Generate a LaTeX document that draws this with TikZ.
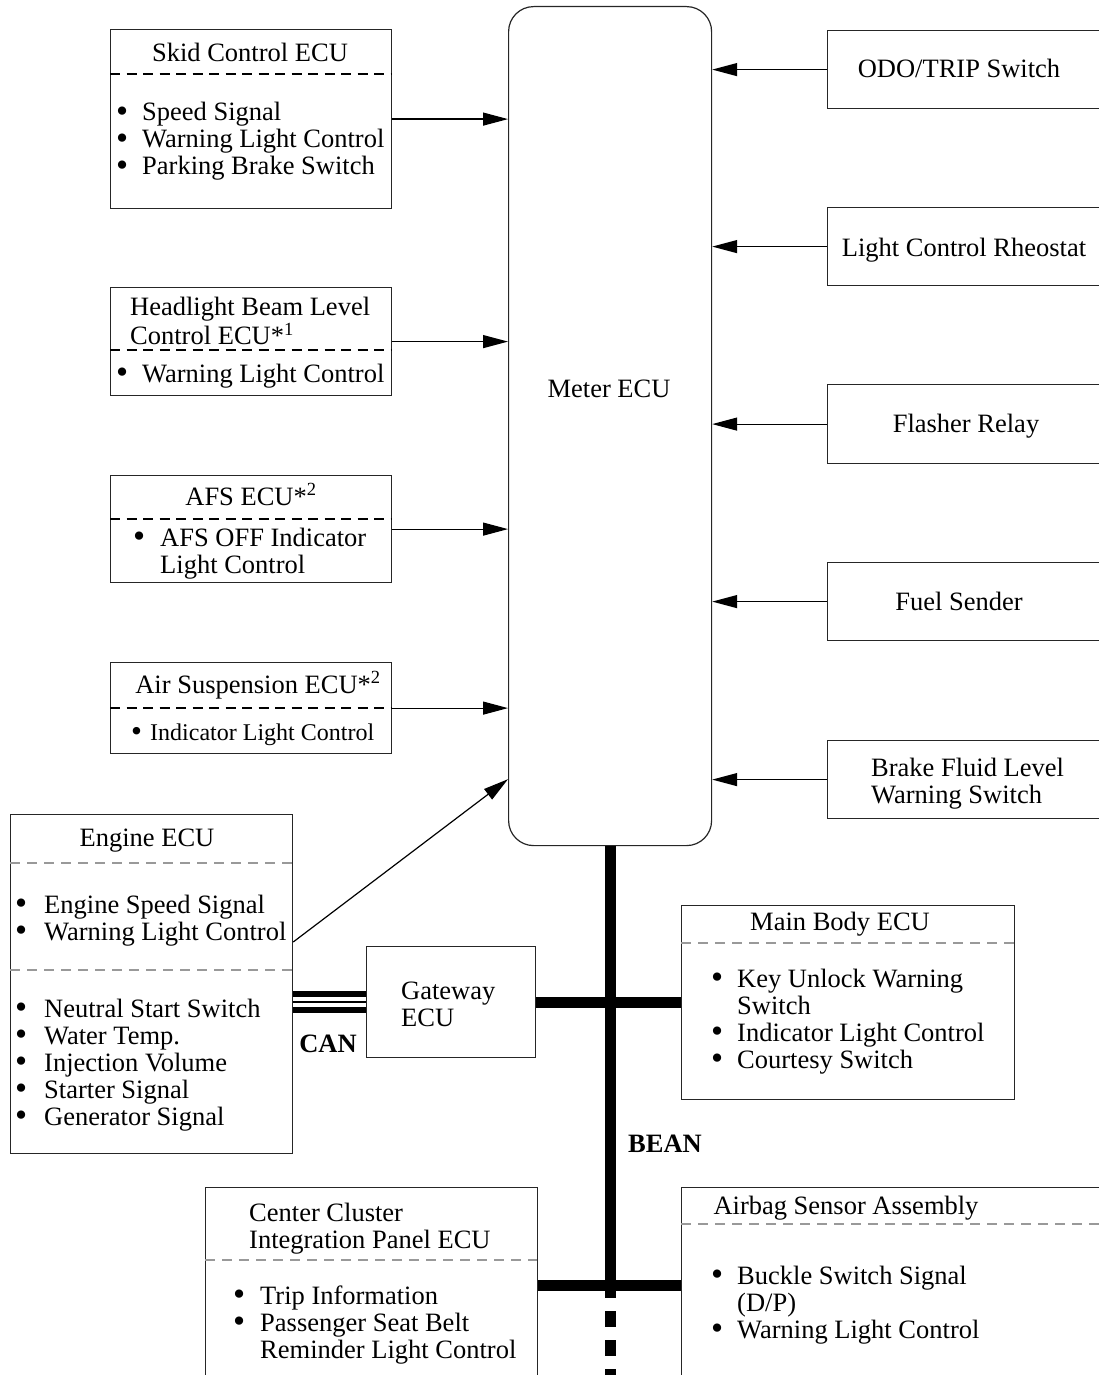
\documentclass[tikz,border=0pt]{standalone}
\usepackage{fontspec}
\setmainfont{Liberation Serif}
\usetikzlibrary{arrows.meta,calc}
% bullet list: #1 = indent of the item text, #2 = rows
\newcommand\ecuitems[2]{\begin{tabular}[t]{@{}p{#1}@{}l@{}}#2\end{tabular}}
\newcommand\eculines[1]{\begin{tabular}[t]{@{}l@{}}#1\end{tabular}}
\newcommand\bul{\raisebox{-0.06em}{\scalebox{1.3}{\textbullet}}}
\begin{document}
\begin{tikzpicture}[x=1pt,y=-1pt,
  box/.style={draw=black!85, line width=1.2pt, anchor=north west, inner sep=0pt, rectangle},
  lbl/.style={inner sep=0pt, font=\fontsize{26.5}{27}\selectfont},
  sml/.style={inner sep=0pt, font=\fontsize{24}{26}\selectfont},
  sig/.style={line width=1.2pt, -{Triangle[length=25pt,width=13pt]}},
  dsh/.style={line width=1.2pt, dash pattern=on 10pt off 6.5pt},
  gdsh/.style={line width=1.2pt, draw=black!40, dash pattern=on 10pt off 7pt},
  bus/.style={line width=11pt},
]
\useasboundingbox (0,0) rectangle (1099,1375);
\clip (0,0) rectangle (1099,1375);

% ---------- Meter ECU ----------
\node[box, rounded corners=25pt, minimum width=203pt, minimum height=839pt] (meter) at (508,6) {};
\node[lbl, anchor=base] (meterlbl) at (609,397) {Meter ECU};

% ---------- left side inputs ----------
\node[box, minimum width=281pt, minimum height=179pt] (skid) at (110,29) {};
\draw[dsh] (110,74) -- (391,74);
\node[lbl, anchor=base] (skidt) at (250,62) {Skid Control ECU};
\node[lbl, anchor=base west] (skidl) at (116,121) {\ecuitems{26pt}{\bul & Speed Signal\\ \bul & Warning Light Control\\ \bul & Parking Brake Switch}};

\node[box, minimum width=281pt, minimum height=108pt] (head) at (110,287) {};
\draw[dsh] (110,350) -- (391,350);
\node[lbl, anchor=base west] (headt) at (130,315) {\eculines{Headlight Beam Level\\ Control ECU*\textsuperscript{1}}};
\node[lbl, anchor=base west] (headl) at (116,382) {\ecuitems{26pt}{\bul & Warning Light Control}};

\node[box, minimum width=281pt, minimum height=107pt] (afs) at (110,475) {};
\draw[dsh] (110,519) -- (391,519);
\node[lbl, anchor=base] (afst) at (251,505) {AFS ECU*\textsuperscript{2}};
\node[lbl, anchor=base west] (afsl) at (133,546) {\ecuitems{27pt}{\bul & AFS OFF Indicator\\ & Light Control}};

\node[box, minimum width=281pt, minimum height=91pt] (airs) at (110,662) {};
\draw[dsh] (110,708) -- (391,708);
\node[lbl, anchor=base] (airst) at (258,693) {Air Suspension ECU*\textsuperscript{2}};
\node[sml, anchor=base west] (airsl) at (131,740) {\ecuitems{19pt}{\bul & Indicator Light Control}};

\draw[sig] (skid.east) -- (skid.east -| meter.west);
\draw[sig] (head.east) -- (head.east -| meter.west);
\draw[sig] (afs.east) -- (afs.east -| meter.west);
\draw[sig] (airs.east) -- (airs.east -| meter.west);

% ---------- right side inputs ----------
\node[box, minimum width=290pt, minimum height=78pt] (odo) at (827,30) {};
\node[lbl, anchor=base] (odot) at (959,78) {ODO/TRIP Switch};
\node[box, minimum width=290pt, minimum height=78pt] (lcr) at (827,207) {};
\node[lbl, anchor=base] (lcrt) at (964,256) {Light Control Rheostat};
\node[box, minimum width=290pt, minimum height=79pt] (flash) at (827,384) {};
\node[lbl, anchor=base] (flasht) at (966,432) {Flasher Relay};
\node[box, minimum width=290pt, minimum height=78pt] (fuel) at (827,562) {};
\node[lbl, anchor=base] (fuelt) at (959,610) {Fuel Sender};
\node[box, minimum width=290pt, minimum height=78pt] (brake) at (827,740) {};
\node[lbl, anchor=base west] (braket) at (871,776) {\eculines{Brake Fluid Level\\ Warning Switch}};

\draw[sig] (odo.west) -- (odo.west -| meter.east);
\draw[sig] (lcr.west) -- (lcr.west -| meter.east);
\draw[sig] (flash.west) -- (flash.west -| meter.east);
\draw[sig] (fuel.west) -- (fuel.west -| meter.east);
\draw[sig] (brake.west) -- (brake.west -| meter.east);

% ---------- Engine ECU and gateway ----------
\node[box, minimum width=282pt, minimum height=339pt] (engine) at (10,814) {};
\draw[gdsh] (10,863) -- (292,863);
\draw[gdsh] (10,970) -- (292,970);
\node[lbl, anchor=base] (enginet) at (147,846) {Engine ECU};
\node[lbl, anchor=base west] (enginel1) at (15,913) {\ecuitems{29pt}{\bul & Engine Speed Signal\\ \bul & Warning Light Control}};
\node[lbl, anchor=base west] (enginel2) at (15,1017) {\ecuitems{29pt}{\bul & Neutral Start Switch\\ \bul & Water Temp.\\ \bul & Injection Volume\\ \bul & Starter Signal\\ \bul & Generator Signal}};

\coordinate (engout) at ($(engine.north east)+(0,128)$);
\coordinate (meterin) at ($(meter.south west)+(0,-67)$);
\draw[sig] (engout) -- (meterin);

\node[box, minimum width=169pt, minimum height=111pt] (gateway) at (366,946) {};
\node[lbl, anchor=base west] (gatewayt) at (401,999) {\eculines{Gateway\\ ECU}};

% CAN line
\draw[line width=6.5pt] ($(engine.east |- gateway.west)+(0,-8)$) -- ($(gateway.west)+(0,-8)$);
\draw[line width=1.3pt] (engine.east |- gateway.west) -- (gateway.west);
\draw[line width=6.5pt] ($(engine.east |- gateway.west)+(0,8)$) -- ($(gateway.west)+(0,8)$);
\node[lbl, anchor=base, font=\fontsize{26.5}{27}\selectfont\bfseries] (can) at (328,1052) {CAN};

% ---------- BEAN bus ----------
\node[box, minimum width=333pt, minimum height=194pt] (mainbody) at (681,905) {};
\draw[gdsh] (681,943) -- (1014,943);
\node[lbl, anchor=base] (mainbodyt) at (840,930) {Main Body ECU};
\node[lbl, anchor=base west] (mainbodyl) at (711,987) {\ecuitems{26pt}{\bul & Key Unlock Warning\\ & Switch\\ \bul & Indicator Light Control\\ \bul & Courtesy Switch}};

\node[box, minimum width=332pt, minimum height=230pt] (cc) at (205,1187) {};
\draw[gdsh] (205,1260) -- (537,1260);
\node[lbl, anchor=base west] (cct) at (249,1221) {\eculines{Center Cluster\\ Integration Panel ECU}};
\node[lbl, anchor=base west] (ccl) at (233,1304) {\ecuitems{27pt}{\bul & Trip Information\\ \bul & Passenger Seat Belt\\ & Reminder Light Control}};

\node[box, minimum width=430pt, minimum height=230pt] (airbag) at (681,1187) {};
\draw[gdsh] (681,1224) -- (1099,1224);
\node[lbl, anchor=base] (airbagt) at (846,1214) {Airbag Sensor Assembly};
\node[lbl, anchor=base west] (airbagl) at (711,1284) {\ecuitems{26pt}{\bul & Buckle Switch Signal\\ & (D/P)\\ \bul & Warning Light Control}};

\coordinate (bustap) at ($(meter.south)+(0,439)$);
\draw[bus] (meter.south) -- ($(meter.south)+(0,452)$) coordinate (busend);
\draw[bus, dash pattern=on 16pt off 13pt] ($(meter.south)+(0,465)$) -- ($(meter.south)+(0,560)$);
\draw[bus] (gateway.east) -- (gateway.east -| mainbody.west);
\draw[bus] (cc.east |- bustap) -- (airbag.west |- bustap);
\node[lbl, anchor=base, font=\fontsize{26.5}{27}\selectfont\bfseries] (bean) at (665,1152) {BEAN};
\end{tikzpicture}
\end{document}
